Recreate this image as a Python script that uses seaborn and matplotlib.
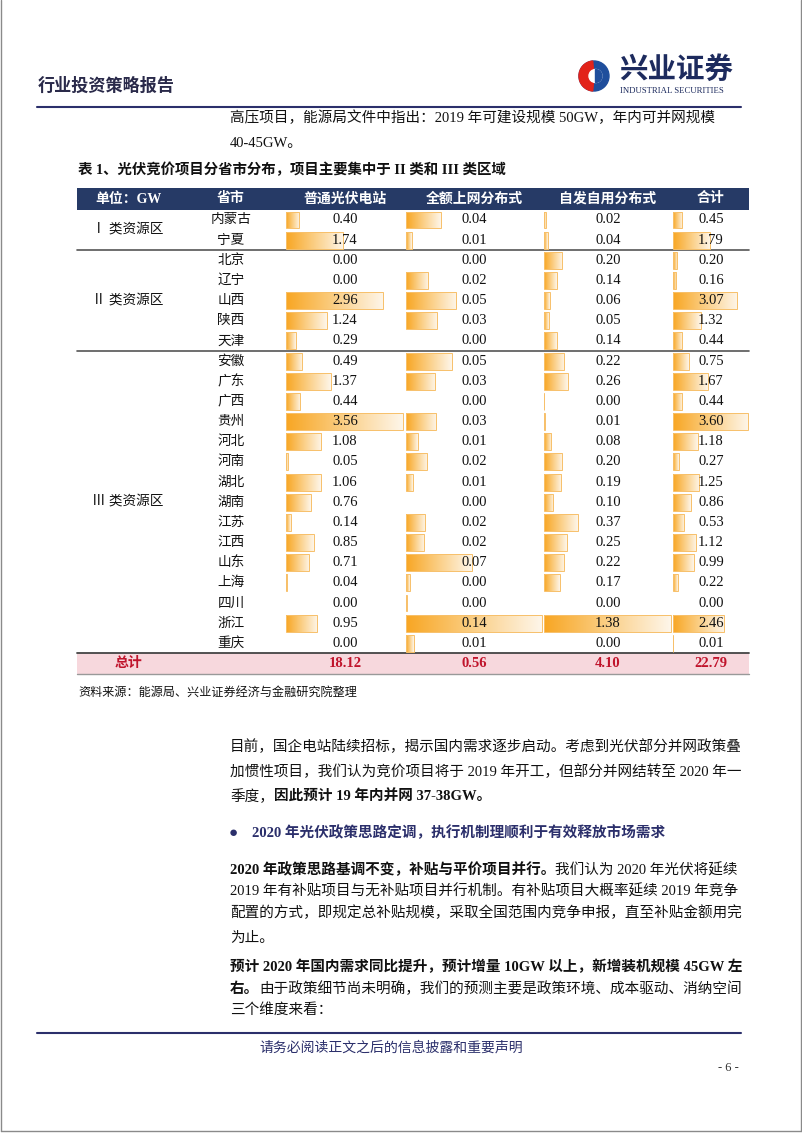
import numpy as np
import pandas as pd
import matplotlib.pyplot as plt
import matplotlib.transforms as mtransforms
from matplotlib.colors import LinearSegmentedColormap
from matplotlib.patches import Rectangle, Wedge, Circle
import seaborn as sns

# table data (GW)
provinces = ["内蒙古", "宁夏", "北京", "辽宁", "山西", "陕西", "天津", "安徽", "广东", "广西", "贵州",
             "河北", "河南", "湖北", "湖南", "江苏", "江西", "山东", "上海", "四川", "浙江", "重庆"]
region_names = ["Ⅰ 类资源区", "Ⅱ 类资源区", "Ⅲ 类资源区"]
region_sizes = [2, 5, 15]
col_names = ["普通光伏电站", "全额上网分布式", "自发自用分布式", "合计"]
ground_station = [0.40, 1.74, 0.00, 0.00, 2.96, 1.24, 0.29, 0.49, 1.37, 0.44, 3.56,
                  1.08, 0.05, 1.06, 0.76, 0.14, 0.85, 0.71, 0.04, 0.00, 0.95, 0.00]
# unrounded estimates (table shows 2 decimals)
full_grid = [0.036, 0.006, 0.0, 0.023, 0.052, 0.032, 0.0, 0.047, 0.030, 0.0, 0.031,
             0.012, 0.022, 0.007, 0.0, 0.020, 0.019, 0.068, 0.004, 0.001, 0.140, 0.008]
self_use = [0.02, 0.04, 0.20, 0.14, 0.06, 0.05, 0.14, 0.22, 0.26, 0.003, 0.01,
            0.08, 0.20, 0.19, 0.10, 0.37, 0.25, 0.22, 0.17, 0.00, 1.38, 0.00]
total = [0.45, 1.79, 0.20, 0.16, 3.07, 1.32, 0.44, 0.75, 1.67, 0.44, 3.60,
         1.18, 0.27, 1.25, 0.86, 0.53, 1.12, 0.99, 0.22, 0.00, 2.46, 0.01]
col_sums = [18.12, 0.56, 4.10, 22.79]

df = pd.DataFrame({"省市": provinces, col_names[0]: ground_station, col_names[1]: full_grid,
                   col_names[2]: self_use, col_names[3]: total})

sns.set_theme(style="white")
plt.rcParams["font.family"] = ["Liberation Serif", "Noto Sans CJK SC", "DejaVu Sans"]

NAVY = "#263a66"
TXT_NAVY = "#2b2f6b"
RED = "#c0142c"
BODY = 10.5

W, H = 802, 1133
fig = plt.figure(figsize=(8.02, 11.33), dpi=100)
page = fig.add_axes([0, 0, 1, 1])
page.set_xlim(0, W)
page.set_ylim(H, 0)
page.set_axis_off()


def fig_rect(x0, y0, x1, y1):
    return [x0 / W, 1 - y1 / H, (x1 - x0) / W, (y1 - y0) / H]


def runs(x, y, parts, size=BODY, color="#111111"):
    prev = None
    for s, bold in parts:
        kw = dict(fontsize=size, color=color, fontweight="bold" if bold else "normal", ha="left", va="center")
        if prev is None:
            prev = page.text(x, y, s, **kw)
        else:
            prev = page.annotate(s, xy=(1, 0.5), xycoords=prev, **kw)


# page frame
page.plot([1, 1], [0, 1131], color="#8a8a8a", lw=1)
page.plot([801, 801], [0, 1131], color="#8a8a8a", lw=1)
page.plot([1, 801], [1131, 1131], color="#8a8a8a", lw=1)

# header
page.text(38, 86, "行业投资策略报告", fontsize=12.3, fontweight="bold", color="#2a2a4a", va="center")
page.add_patch(Circle((594, 76), 15, color="#1f4e9c"))
page.add_patch(Wedge((594, 76), 15, 95, 265, color="#e2231a"))
page.add_patch(Circle((595.5, 76), 6.5, color="white"))
page.add_patch(Wedge((595.5, 76), 6.5, 270, 90, color="#1f4e9c"))
page.text(619, 70, "兴业证券", fontsize=20.5, fontweight="bold", color="#1d2b5e", va="center")
page.text(620, 91, "INDUSTRIAL SECURITIES", fontsize=6.3, color="#1d2b5e", va="center")
page.plot([37, 741], [107, 107], color=TXT_NAVY, lw=1.5)

runs(230, 118, [("高压项目，能源局文件中指出：2019 年可建设规模 50GW，年内可并网规模", False)])
runs(230, 143, [("40-45GW。", False)])

page.text(78, 170, "表 1、光伏竞价项目分省市分布，项目主要集中于 II 类和 III 类区域",
          fontsize=10.4, fontweight="bold", color="#111111", va="center")

# table geometry
row_top, row_h = 209.9, 20.16
n = len(provinces)
body_bottom = row_top + n * row_h
cols = [(286, 404), (406, 543), (544, 672), (673, 749)]

page.add_patch(Rectangle((77, 188), 672, row_top - 188, color=NAVY, lw=0))
page.add_patch(Rectangle((77, body_bottom), 672, row_h, color="#f7d8dd", lw=0))

cmap = LinearSegmentedColormap.from_list("bar", ["#f8a623", "#fbcf86", "#fef6ea"])
grad = np.linspace(0, 1, 256).reshape(1, -1)

bar_axes = []
for (x0, x1), name in zip(cols, col_names):
    ax = fig.add_axes(fig_rect(x0, row_top, x1, body_bottom))
    sns.barplot(data=df, x=name, y="省市", order=provinces, orient="h", width=0.84,
                color="#f8a623", ax=ax)
    xmax = df[name].max() / 0.99
    for p in list(ax.patches):
        bx, by, bw, bh = p.get_x(), p.get_y(), p.get_width(), p.get_height()
        if bw <= 0:
            p.set_visible(False)
            continue
        im = ax.imshow(grad, extent=[bx, bx + bw, by + bh, by], aspect="auto", cmap=cmap,
                       interpolation="bilinear", zorder=2)
        im.set_clip_path(p)
        p.set_facecolor("none")
        p.set_edgecolor("#f7c06a")
        p.set_linewidth(0.7)
        p.set_zorder(3)
    ax.set_xlim(0, xmax)
    ax.set_ylim(n - 0.5, -0.5)
    ax.set_axis_off()
    tr = mtransforms.blended_transform_factory(ax.transAxes, ax.transData)
    for i, v in enumerate(df[name]):
        ax.text(0.5, i, f"{v:.2f}", transform=tr, ha="center", va="center", fontsize=10.5,
                color="#111111", zorder=5, clip_on=False)
    bar_axes.append(ax)

rows_tr = mtransforms.blended_transform_factory(page.transData, bar_axes[0].transData)

# header labels
hdr_y = -0.5 - (row_top - 188) / row_h / 2
page.text(128, hdr_y, "单位：GW", transform=rows_tr, ha="center", va="center", fontsize=10,
          fontweight="bold", color="white")
page.text(231, hdr_y, "省市", transform=rows_tr, ha="center", va="center", fontsize=10,
          fontweight="bold", color="white")
for (x0, x1), name in zip(cols, col_names):
    page.text((x0 + x1) / 2, hdr_y, name, transform=rows_tr, ha="center", va="center",
              fontsize=10, fontweight="bold", color="white")

# province and region labels
for i, p in enumerate(provinces):
    page.text(231, i, p, transform=rows_tr, ha="center", va="center", fontsize=9.8, color="#111111")
start = 0
for k, (rn, size) in enumerate(zip(region_names, region_sizes)):
    page.text(128, start + (size - 1) / 2, rn, transform=rows_tr, ha="center", va="center",
              fontsize=9.8, color="#111111")
    start += size
    if k < len(region_names) - 1:
        page.plot([77, 749], [start - 0.5, start - 0.5], transform=rows_tr, color="#555555", lw=1.2)

# total row
page.plot([77, 749], [n - 0.5, n - 0.5], transform=rows_tr, color="#444444", lw=1.3)
page.plot([77, 749], [n + 0.5, n + 0.5], transform=rows_tr, color="#999999", lw=1)
page.text(128, n, "总计", transform=rows_tr, ha="center", va="center", fontsize=10,
          fontweight="bold", color=RED)
for (x0, x1), s in zip(cols, col_sums):
    page.text((x0 + x1) / 2, n, f"{s:.2f}", transform=rows_tr, ha="center", va="center",
              fontsize=10.5, fontweight="bold", color=RED)

page.text(78, 693, "资料来源：能源局、兴业证券经济与金融研究院整理", fontsize=8.7, color="#111111", va="center")

# body text
runs(230, 747, [("目前，国企电站陆续招标，揭示国内需求逐步启动。考虑到光伏部分并网政策叠", False)])
runs(230, 772, [("加惯性项目，我们认为竞价项目将于 2019 年开工，但部分并网结转至 2020 年一", False)])
runs(230, 797, [("季度，", False), ("因此预计 19 年内并网 37-38GW。", True)])

page.text(229, 833, "●", fontsize=11, color=TXT_NAVY, va="center")
runs(252, 833, [("2020 年光伏政策思路定调，执行机制理顺利于有效释放市场需求", True)], color=TXT_NAVY)

runs(230, 870, [("2020 年政策思路基调不变，补贴与平价项目并行。", True), ("我们认为 2020 年光伏将延续", False)])
runs(230, 891, [("2019 年有补贴项目与无补贴项目并行机制。有补贴项目大概率延续 2019 年竞争", False)])
runs(230, 913, [("配置的方式，即规定总补贴规模，采取全国范围内竞争申报，直至补贴金额用完", False)])
runs(230, 938, [("为止。", False)])

runs(230, 967, [("预计 2020 年国内需求同比提升，预计增量 10GW 以上，新增装机规模 45GW 左", True)])
runs(230, 989, [("右。", True), ("由于政策细节尚未明确，我们的预测主要是政策环境、成本驱动、消纳空间", False)])
runs(230, 1010, [("三个维度来看：", False)])

# footer
page.plot([37, 741], [1033, 1033], color=TXT_NAVY, lw=1.5)
page.text(391, 1048, "请务必阅读正文之后的信息披露和重要声明", fontsize=10, color=TXT_NAVY,
          ha="center", va="center")
page.text(728, 1068, "- 6 -", fontsize=9, color="#333333", ha="center", va="center")

fig.savefig("out.png", dpi=100)
